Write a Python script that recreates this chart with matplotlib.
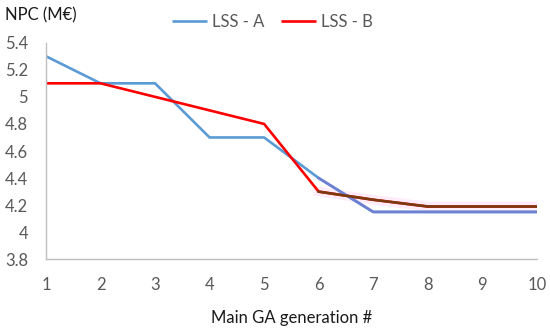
import matplotlib.pyplot as plt

generations = [1, 2, 3, 4, 5, 6, 7, 8, 9, 10]
lss_a = [5.3, 5.1, 5.1, 4.7, 4.7, 4.4, 4.15, 4.15, 4.15, 4.15]
lss_b = [5.1, 5.1, 5.0, 4.9, 4.8, 4.3, 4.24, 4.19, 4.19, 4.19]
y_ticks = [3.8, 4, 4.2, 4.4, 4.6, 4.8, 5, 5.2, 5.4]
y_tick_labels = ['3.8', '4', '4.2', '4.4', '4.6', '4.8', '5', '5.2', '5.4']

plt.rcParams['font.family'] = ['Lato', 'DejaVu Sans']

fig = plt.figure(figsize=(5.5, 3.28), dpi=100)
ax = fig.add_axes([0.0836, 0.2094, 0.8924, 0.6604])

blue = '#5b9bd5'
red = '#ff0000'

ax.plot(generations, lss_a, color=blue, lw=1.9, label='LSS - A', solid_capstyle='butt')
ax.plot(generations, lss_b, color=red, lw=1.9, label='LSS - B', solid_capstyle='butt')
# tail of the curves looks tinted in the original (glow / overlap artefact)
ax.plot(generations[5:], lss_b[5:], color='#ff66cc', lw=7, alpha=0.12, zorder=1)
ax.plot(generations[5:], lss_a[5:], color='#6f7fd2', lw=1.9, zorder=3)
ax.plot(generations[5:], lss_b[5:], color='#7a3a10', lw=1.9, zorder=4)

ax.set_xlim(1, 10)
ax.set_ylim(3.8, 5.4)
ax.set_xticks(generations)
ax.set_yticks(y_ticks)
ax.set_yticklabels(y_tick_labels)
ax.tick_params(length=0, labelsize=12, colors='#595959')
ax.tick_params(axis='y', pad=13)
ax.tick_params(axis='x', pad=13)

for side in ['top', 'right']:
    ax.spines[side].set_visible(False)
for side in ['left', 'bottom']:
    ax.spines[side].set_color('#bfbfbf')
    ax.spines[side].set_linewidth(1)

ax.set_xlabel('Main GA generation #', fontsize=12, color='#1a1a1a', labelpad=12)
fig.text(0.009, 0.954, 'NPC (M€)', fontsize=12, color='#1a1a1a', va='center', ha='left')

leg = ax.legend(loc='center', bbox_to_anchor=(0.462, 1.095), ncol=2, frameon=False,
                fontsize=12, handlelength=2.1, columnspacing=1.0, handletextpad=0.3)
for t in leg.get_texts():
    t.set_color('#595959')

fig.savefig('out.png', dpi=100)
